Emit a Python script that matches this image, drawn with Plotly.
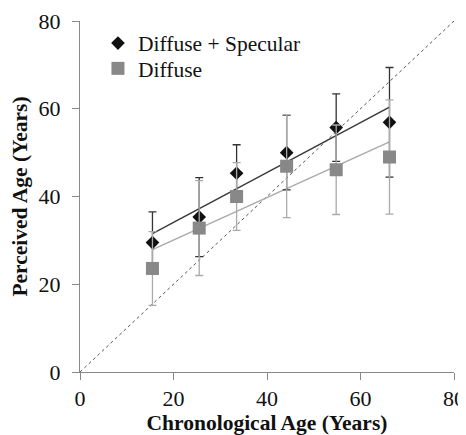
import numpy as np
import plotly.graph_objects as go

# Data
chron_age = [15.5, 25.5, 33.5, 44.2, 54.8, 66.2]
ds_age = [29.5, 35.3, 45.3, 50.0, 55.7, 56.9]
ds_err = [7.0, 9.0, 6.5, 8.5, 7.7, 12.5]
d_age = [23.6, 32.8, 40.0, 46.9, 46.1, 49.0]
d_err = [8.4, 10.8, 7.7, 11.7, 10.2, 13.0]
identity = [0, 80]
ticks = [0, 20, 40, 60, 80]

SERIF = "Liberation Serif"

def fit(x, y):
    k, b = np.polyfit(x, y, 1)
    xs = [min(x), max(x)]
    return xs, [k * v + b for v in xs]

fig = go.Figure()

# identity line
fig.add_trace(go.Scatter(x=identity, y=identity, mode="lines",
                         line=dict(color="#555555", width=1, dash="dot"),
                         showlegend=False, hoverinfo="skip"))

# trend lines
fx, fy = fit(chron_age, ds_age)
fig.add_trace(go.Scatter(x=fx, y=fy, mode="lines",
                         line=dict(color="#3a3a3a", width=1.5), showlegend=False))
gx, gy = fit(chron_age, d_age)
fig.add_trace(go.Scatter(x=gx, y=gy, mode="lines",
                         line=dict(color="#aaaaaa", width=1.5), showlegend=False))

fig.add_trace(go.Scatter(
    x=chron_age, y=ds_age, mode="markers", name="Diffuse + Specular",
    legend="legend",
    marker=dict(symbol="diamond", size=10.5, color="#111111"),
    error_y=dict(type="data", array=ds_err, visible=True, color="#333333",
                 thickness=1.3, width=4)))

fig.add_trace(go.Scatter(
    x=chron_age, y=d_age, mode="markers", name="Diffuse",
    legend="legend2",
    marker=dict(symbol="square", size=13, color="#888888"),
    error_y=dict(type="data", array=d_err, visible=True, color="#aaaaaa",
                 thickness=1.3, width=4)))

axis_common = dict(
    range=[0, 80], tickvals=ticks, showgrid=False, zeroline=False,
    showline=True, linecolor="#888888", linewidth=1,
    ticks="outside", ticklen=7, tickcolor="#888888",
    tickfont=dict(family=SERIF, size=22, color="#111111"),
    automargin=False,
)

fig.update_xaxes(**axis_common,
                 title=dict(text="<b>Chronological Age (Years)</b>", standoff=4,
                            font=dict(family=SERIF, size=21.5, color="#111111")))
fig.update_yaxes(**axis_common, ticklabelstandoff=7,
                 title=dict(text="<b>Perceived Age (Years)</b>", standoff=7,
                            font=dict(family=SERIF, size=21.5, color="#111111")))

leg_common = dict(xanchor="left", yanchor="middle", bgcolor="rgba(0,0,0,0)",
                  font=dict(family=SERIF, size=21.5, color="#111111"),
                  itemwidth=30)

fig.update_layout(
    width=458, height=427,
    margin=dict(l=72, r=12, t=13, b=63, autoexpand=False),
    paper_bgcolor="white", plot_bgcolor="white",
    font=dict(family=SERIF, color="#111111"),
    legend=dict(x=0.048, y=0.937, **leg_common),
    legend2=dict(x=0.048, y=0.865, **leg_common),
    showlegend=True,
)

fig.write_html("out.html")
